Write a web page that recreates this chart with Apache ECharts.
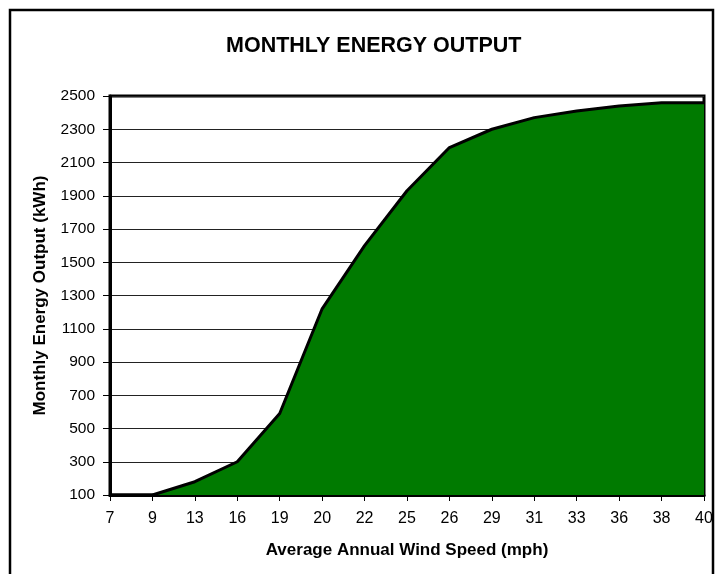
<!DOCTYPE html>
<html>
<head>
<meta charset="utf-8">
<script src="https://cdn.jsdelivr.net/npm/echarts@6/dist/echarts.min.js"></script>
<style>
  html, body { margin: 0; padding: 0; background: #fff; }
  #chart { width: 719px; height: 574px; }
</style>
</head>
<body>
<div id="chart"></div>
<script>
// wind speed categories (mph)
const windSpeeds = ['7', '9', '13', '16', '19', '20', '22', '25', '26', '29', '31', '33', '36', '38', '40']
// monthly output (kWh)
const energyOutput = [100, 100, 180, 300, 590, 1220, 1600, 1930, 2190, 2300, 2370, 2410, 2440, 2460, 2460]

const chart = echarts.init(document.getElementById('chart'))
const font = 'Liberation Sans, Arial, sans-serif'

const option = {
  animation: false,
  textStyle: { fontFamily: font },
  // outer frame of the chart
  graphic: [
    {
      type: 'rect',
      shape: { x: 10, y: 10, width: 703, height: 600 },
      style: { fill: 'none', stroke: '#000', lineWidth: 2.5 }
    }
  ],
  title: {
    text: 'MONTHLY ENERGY OUTPUT',
    left: 221,
    top: 30,
    textStyle: { fontFamily: font, fontSize: 21.5, fontWeight: 'bold', color: '#000' }
  },
  grid: {
    left: 110,
    right: 15,
    top: 96,
    bottom: 79,
    show: true,
    borderColor: '#000',
    borderWidth: 3
  },
  xAxis: {
    type: 'category',
    data: windSpeeds,
    boundaryGap: false,
    name: 'Average Annual Wind Speed (mph)',
    nameLocation: 'middle',
    nameGap: 47,
    nameTextStyle: { fontFamily: font, fontSize: 17, fontWeight: 'bold', color: '#000' },
    axisLine: { lineStyle: { color: '#000', width: 3 } },
    axisTick: { show: true, length: 6, lineStyle: { color: '#000' } },
    axisLabel: { fontFamily: font, fontSize: 16, color: '#000', margin: 16 },
    splitLine: { show: false }
  },
  yAxis: {
    type: 'value',
    min: 100,
    max: 2500,
    interval: 200,
    name: 'Monthly Energy Output (kWh)',
    nameLocation: 'middle',
    nameGap: 61,
    nameTextStyle: { fontFamily: font, fontSize: 17, fontWeight: 'bold', color: '#000' },
    axisLine: { show: true, lineStyle: { color: '#000', width: 3 } },
    axisTick: { show: true, length: 7, lineStyle: { color: '#000' } },
    axisLabel: {
      fontFamily: font,
      fontSize: 15.5,
      color: '#000',
      margin: 15,
      formatter: v => String(v)
    },
    splitLine: { show: true, lineStyle: { color: '#222', width: 1 } }
  },
  series: [
    {
      type: 'line',
      data: energyOutput,
      symbol: 'none',
      lineStyle: { color: '#000', width: 3 },
      areaStyle: { color: '#007a00', opacity: 1, origin: 'start' }
    }
  ]
}
chart.setOption(option)
</script>
</body>
</html>
